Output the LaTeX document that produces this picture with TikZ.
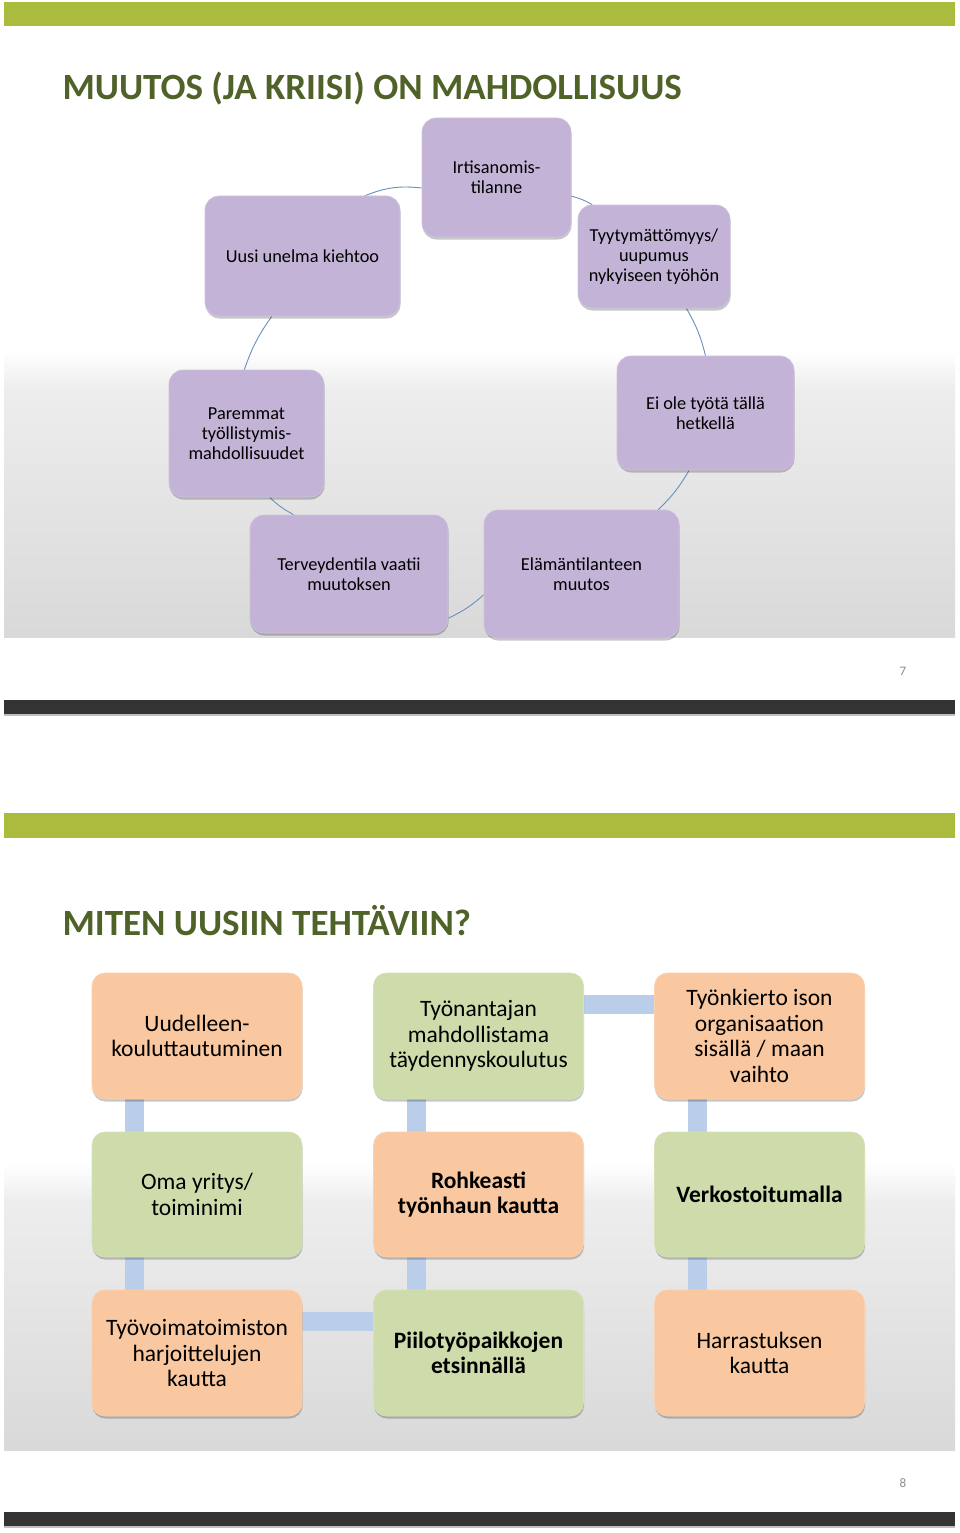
\documentclass[tikz,border=0pt]{standalone}
\usepackage{fontspec}
\setmainfont{Carlito}
\usetikzlibrary{shadows,calc}
\definecolor{greenbar}{HTML}{ABBB3D}
\definecolor{titlecol}{HTML}{4F6228}
\definecolor{darkbar}{HTML}{333333}
\definecolor{purplefill}{HTML}{C3B3D6}
\definecolor{purpleedge}{HTML}{CFC3E0}
\definecolor{arccol}{HTML}{6890BE}
\definecolor{orangefill}{HTML}{FAC8A0}
\definecolor{greenfill}{HTML}{CEDCAB}
\definecolor{barcol}{HTML}{BACEEA}
\definecolor{numcol}{HTML}{8C8C8C}
\pgfdeclarelayer{back}
\pgfdeclarelayer{mid}
\pgfsetlayers{back,mid,main}
\tikzset{
  boxshadow/.style={drop shadow={shadow xshift=0.5pt, shadow yshift=-2.5pt, fill=black, opacity=0.22}},
  pbox/.style={rounded corners=14pt, fill=purplefill, draw=purpleedge, line width=0.6pt, boxshadow,
    align=center, inner sep=0pt, font=\fontsize{18.3}{20}\selectfont},
  obox/.style={rounded corners=13pt, fill=orangefill, draw=orangefill!85!white, line width=0.6pt, boxshadow,
    align=center, inner sep=0pt, minimum width=210pt, font=\fontsize{23.5}{25.5}\selectfont},
  gbox/.style={obox, fill=greenfill, draw=greenfill!85!white},
  arcline/.style={draw=arccol, line width=0.9pt},
  bar/.style={draw=barcol, line width=19pt},
  titletext/.style={anchor=base west, text=titlecol, font=\fontsize{37}{40}\selectfont\bfseries},
  numtext/.style={text=numcol, font=\fontsize{13}{15}\selectfont}
}
\begin{document}
\begin{tikzpicture}[x=1pt,y=-1pt]
\useasboundingbox (0,0) rectangle (960,1533);
\begin{pgfonlayer}{back}
  \fill[white] (0,0) rectangle (960,1533);
  \shade[top color=white, bottom color=black!7] (4,350) rectangle (955,390);
  \shade[top color=black!7, bottom color=black!15] (4,390) rectangle (955,637);
  \shade[top color=white, bottom color=black!7] (4,1163) rectangle (955,1203);
  \shade[top color=black!7, bottom color=black!15] (4,1203) rectangle (955,1450);
\end{pgfonlayer}
% ---------- slide 7 ----------
\fill[greenbar] (4,2) rectangle (955,26);
\node[titletext] (t1) at (59,100) {MUUTOS (JA KRIISI) ON MAHDOLLISUUS};
\node[pbox, minimum width=149pt, minimum height=119pt] (irt) at (496.5,177.5) {Irtisanomis-\\tilanne};
\node[pbox, minimum width=152pt, minimum height=103pt] (tyy) at (654,256.5) {Tyytymättömyys/\\uupumus\\nykyiseen työhön};
\node[pbox, minimum width=177pt, minimum height=114pt] (ei) at (705.5,413) {Ei ole työtä tällä\\hetkellä};
\node[pbox, minimum width=195pt, minimum height=128pt] (ela) at (581.5,574) {Elämäntilanteen\\muutos};
\node[pbox, minimum width=198pt, minimum height=118pt] (ter) at (349,574) {Terveydentila vaatii\\muutoksen};
\node[pbox, minimum width=155pt, minimum height=127pt] (par) at (246.5,433.5) {Paremmat\\työllistymis-\\mahdollisuudet};
\node[pbox, minimum width=195pt, minimum height=120pt] (uus) at (302.5,256) {Uusi unelma kiehtoo};
\begin{pgfonlayer}{mid}
  \draw[arcline] (uus.44) to[bend left=14] (irt.188);
  \draw[arcline] (irt.346) to[bend left=8] (tyy.140);
  \draw[arcline] (tyy.302) to[bend left=8] (ei.90);
  \draw[arcline] (ei.254) to[bend left=8] (ela.40);
  \draw[arcline] (ela.192) to[bend left=8] (ter.336);
  \draw[arcline] (ter.133) to[bend left=8] (par.290);
  \draw[arcline] (par.92) to[bend left=8] (uus.243);
\end{pgfonlayer}
\node[numtext] (n7) at (903,671) {7};
\fill[black!25] (4,714) rectangle (955,716);
\fill[darkbar] (4,700) rectangle (955,714);
% ---------- slide 8 ----------
\fill[greenbar] (4,813) rectangle (955,838);
\node[titletext] (t2) at (59,935) {MITEN UUSIIN TEHTÄVIIN?};
\node[obox, minimum height=126pt] (uud) at (197,1036) {Uudelleen-\\kouluttautuminen};
\node[gbox, minimum height=126pt] (tyon) at (478.5,1036) {Työnantajan\\mahdollistama\\täydennyskoulutus};
\node[obox, minimum height=126pt] (kier) at (759.5,1036) {Työnkierto ison\\organisaation\\sisällä / maan\\vaihto};
\node[gbox, minimum height=125pt] (oma) at (197,1194.5) {Oma yritys/\\toiminimi};
\node[obox, minimum height=125pt] (roh) at (478.5,1194.5) {\bfseries Rohkeasti\\\bfseries työnhaun kautta};
\node[gbox, minimum height=125pt] (ver) at (759.5,1194.5) {\bfseries Verkostoitumalla};
\node[obox, minimum height=126pt] (tyov) at (197,1353) {Työvoimatoimiston\\harjoittelujen\\kautta};
\node[gbox, minimum height=126pt] (pii) at (478.5,1353) {\bfseries Piilotyöpaikkojen\\\bfseries etsinnällä};
\node[obox, minimum height=126pt] (har) at (759.5,1353) {Harrastuksen\\kautta};
\begin{pgfonlayer}{mid}
  \draw[bar] ([xshift=-63pt]uud.south) -- ([xshift=-63pt]oma.north);
  \draw[bar] ([xshift=-63pt]oma.south) -- ([xshift=-63pt]tyov.north);
  \draw[bar] ([yshift=32pt]tyov.east) -- ([yshift=32pt]pii.west);
  \draw[bar] ([xshift=-62.5pt]pii.north) -- ([xshift=-62.5pt]roh.south);
  \draw[bar] ([xshift=-62.5pt]roh.north) -- ([xshift=-62.5pt]tyon.south);
  \draw[bar] ([yshift=32pt]tyon.east) -- ([yshift=32pt]kier.west);
  \draw[bar] ([xshift=-62.5pt]kier.south) -- ([xshift=-62.5pt]ver.north);
  \draw[bar] ([xshift=-62.5pt]ver.south) -- ([xshift=-62.5pt]har.north);
\end{pgfonlayer}
\node[numtext] (n8) at (903,1483) {8};
\fill[black!25] (4,1526) rectangle (955,1528);
\fill[darkbar] (4,1512) rectangle (955,1526);
\end{tikzpicture}
\end{document}
